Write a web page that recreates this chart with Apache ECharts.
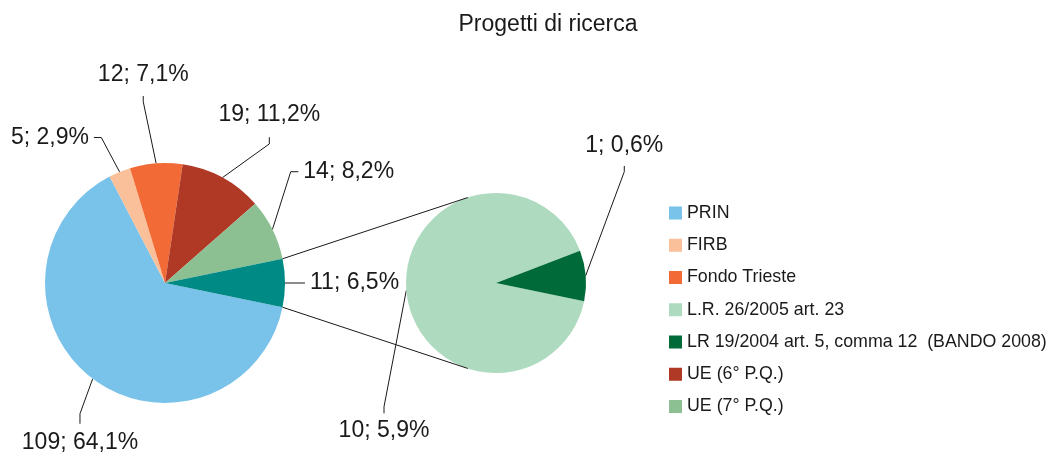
<!DOCTYPE html>
<html>
<head>
<meta charset="utf-8">
<script src="https://cdn.jsdelivr.net/npm/echarts@6/dist/echarts.min.js"></script>
<style>
  html, body { margin: 0; padding: 0; background: #ffffff; }
  #chart { width: 1056px; height: 454px; }
</style>
</head>
<body>
<div id="chart"></div>
<script>
// Main pie: funding sources; the last slice groups the regional sources
const mainNames = ['PRIN', 'FIRB', 'Fondo Trieste', 'UE (6° P.Q.)', 'UE (7° P.Q.)', 'Altro'];
const mainValues = [109, 5, 12, 19, 14, 11];

// Secondary pie: breakdown of the grouped slice
const detailNames = ['L.R. 26/2005 art. 23', 'LR 19/2004 art. 5, comma 12  (BANDO 2008)'];
const detailValues = [10, 1];

const legendOrder = [
  'PRIN', 'FIRB', 'Fondo Trieste', 'L.R. 26/2005 art. 23',
  'LR 19/2004 art. 5, comma 12  (BANDO 2008)', 'UE (6° P.Q.)', 'UE (7° P.Q.)'
];

const palette = {
  'PRIN': '#79c2ea',
  'FIRB': '#f9c09a',
  'Fondo Trieste': '#f26a35',
  'UE (6° P.Q.)': '#b03925',
  'UE (7° P.Q.)': '#8cbf91',
  'Altro': '#008a86',
  'L.R. 26/2005 art. 23': '#aedbbf',
  'LR 19/2004 art. 5, comma 12  (BANDO 2008)': '#006b39'
};

const FONT = '"Liberation Sans", Arial, Helvetica, sans-serif';
const TEXT = '#1a1a1a';

const mainPie = { center: [165, 283], radius: 120 };
const detailPie = { center: [496, 283], radius: 90 };

const total = mainValues.reduce((a, b) => a + b, 0);
const otherValue = mainValues[mainValues.length - 1];
// the grouped slice sits centred on the horizontal, facing the secondary pie
const startAngle = -otherValue / total * 180;

// Leader lines: bend offset from the slice edge, short tail, then the text
const leaders = {
  'PRIN':          { bend: [-12.7, 35],   tail: 'down',  len: 10,  gap: 7 },
  'FIRB':          { bend: [-18.3, -34.4], tail: 'left', len: 7.4, gap: 5 },
  'Fondo Trieste': { bend: [-12.9, -61.6], tail: 'up',   len: 5.7, gap: 9.8 },
  'UE (6° P.Q.)':  { bend: [46.9, -33.7],  tail: 'up',   len: 6.7, gap: 11 },
  'UE (7° P.Q.)':  { bend: [18.3, -57.8],  tail: 'right', len: 7.6, gap: 5 },
  'Altro':         { bend: [10, 0],        tail: 'right', len: 10,  gap: 5 },
  'L.R. 26/2005 art. 23': { bend: [-22.3, 116.3], tail: 'down', len: 6.6, gap: 5.4 },
  'LR 19/2004 art. 5, comma 12  (BANDO 2008)': { bend: [38.6, -103.9], tail: 'up', len: 5.7, gap: 9.2 }
};

const DIRS = { down: [0, 1], up: [0, -1], left: [-1, 0], right: [1, 0] };

// point on the outer edge at the middle of each slice (clockwise from startAngle)
function edgePoints(values, geo) {
  const sum = values.reduce((a, b) => a + b, 0);
  let acc = 0;
  return values.map(v => {
    const mid = (startAngle - (acc + v / 2) / sum * 360) * Math.PI / 180;
    acc += v;
    return [geo.center[0] + geo.radius * Math.cos(mid), geo.center[1] - geo.radius * Math.sin(mid)];
  });
}

function placeLabels(names, values, geo) {
  const edges = edgePoints(values, geo);
  return function (p) {
    const cfg = leaders[names[p.dataIndex]];
    const e = edges[p.dataIndex];
    const d = DIRS[cfg.tail];
    const b = [e[0] + cfg.bend[0], e[1] + cfg.bend[1]];
    const t = [b[0] + d[0] * cfg.len, b[1] + d[1] * cfg.len];
    return {
      x: t[0] + d[0] * cfg.gap,
      y: t[1] + d[1] * cfg.gap,
      align: cfg.tail === 'left' ? 'right' : (cfg.tail === 'right' ? 'left' : 'center'),
      verticalAlign: cfg.tail === 'up' ? 'bottom' : (cfg.tail === 'down' ? 'top' : 'middle'),
      labelLinePoints: [e, b, t]
    };
  };
}

function fmt(p) {
  return p.value + '; ' + (p.value / total * 100).toFixed(1).replace('.', ',') + '%';
}

function pieSeries(names, values, geo) {
  return {
    type: 'pie',
    center: geo.center,
    radius: geo.radius,
    startAngle: startAngle,
    clockwise: true,
    avoidLabelOverlap: false,
    animation: false,
    emphasis: { disabled: true },
    itemStyle: { borderWidth: 0 },
    label: {
      show: true,
      position: 'outside',
      formatter: fmt,
      fontFamily: FONT,
      fontSize: 23,
      color: TEXT,
      overflow: 'none'
    },
    labelLine: { show: true, length: 10, length2: 10, lineStyle: { color: TEXT, width: 1 } },
    labelLayout: placeLabels(names, values, geo),
    data: names.map((n, i) => ({ name: n, value: values[i], itemStyle: { color: palette[n] } }))
  };
}

// tangent point on the secondary pie seen from an external point p
function tangent(p, geo, upper) {
  const dx = geo.center[0] - p[0], dy = geo.center[1] - p[1];
  const d = Math.hypot(dx, dy);
  const theta = Math.atan2(dy, dx);
  const alpha = Math.asin(geo.radius / d);
  const len = Math.sqrt(d * d - geo.radius * geo.radius);
  const a = upper ? theta - alpha : theta + alpha;
  return [p[0] + len * Math.cos(a), p[1] + len * Math.sin(a)];
}

function sliceCorner(angleDeg) {
  const a = angleDeg * Math.PI / 180;
  return [mainPie.center[0] + mainPie.radius * Math.cos(a), mainPie.center[1] - mainPie.radius * Math.sin(a)];
}

const topCorner = sliceCorner(-startAngle);
const bottomCorner = sliceCorner(startAngle);
const topTan = tangent(topCorner, detailPie, true);
const bottomTan = tangent(bottomCorner, detailPie, false);

const chart = echarts.init(document.getElementById('chart'), null, { renderer: 'canvas' });

chart.setOption({
  backgroundColor: '#ffffff',
  animation: false,
  title: {
    text: 'Progetti di ricerca',
    left: 548,
    top: 13,
    padding: 0,
    textAlign: 'center',
    textStyle: { fontFamily: FONT, fontSize: 23, fontWeight: 'normal', color: TEXT }
  },
  legend: {
    data: legendOrder,
    orient: 'vertical',
    left: 669,
    top: 203,
    padding: 0,
    itemWidth: 13,
    itemHeight: 13,
    itemGap: 12.25,
    icon: 'rect',
    selectedMode: false,
    textStyle: { fontFamily: FONT, fontSize: 17.8, color: TEXT, lineHeight: 20 }
  },
  graphic: [
    { type: 'line', z: 10, shape: { x1: topCorner[0], y1: topCorner[1], x2: topTan[0], y2: topTan[1] }, style: { stroke: TEXT, lineWidth: 1 } },
    { type: 'line', z: 10, shape: { x1: bottomCorner[0], y1: bottomCorner[1], x2: bottomTan[0], y2: bottomTan[1] }, style: { stroke: TEXT, lineWidth: 1 } }
  ],
  series: [
    pieSeries(mainNames, mainValues, mainPie),
    pieSeries(detailNames, detailValues, detailPie)
  ]
});
</script>
</body>
</html>
